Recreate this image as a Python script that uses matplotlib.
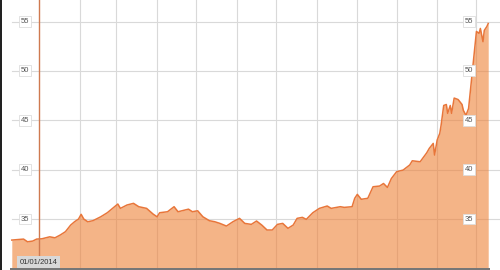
import numpy as np
import matplotlib
matplotlib.use("Agg")
from matplotlib import pyplot as plt

# days from 01/01/2014 and rate
days = [-21, -12, -9, -5, -2, 2, 8, 12, 16, 20, 24, 27, 30, 32, 34, 37, 41, 47, 52, 56,
        60, 62, 67, 72, 76, 82, 87, 90, 92, 98, 103, 106, 114, 117, 121, 125, 130, 134, 138, 143,
        148, 153, 157, 162, 166, 170, 174, 178, 182, 186, 190, 194, 197, 201, 204, 209, 214, 220, 223, 230,
        233, 239, 241, 243, 246, 251, 255, 260, 263, 266, 269, 273, 278, 283, 285, 291, 296, 298, 301, 302,
        304, 306, 307, 309, 311, 312, 314, 315, 317, 320, 323, 324, 326, 328, 334, 336, 337, 339, 340, 342, 343]
values = [32.87, 32.97, 32.70, 32.77, 32.97, 33.00, 33.20, 33.10, 33.38, 33.72, 34.39, 34.73, 35.00, 35.48, 35.00, 34.73, 34.83, 35.23, 35.64, 36.08,
          36.52, 36.08, 36.42, 36.59, 36.25, 36.08, 35.50, 35.23, 35.64, 35.74, 36.25, 35.74, 36.00, 35.74, 35.84, 35.23, 34.83, 34.73, 34.56, 34.29,
          34.73, 35.07, 34.56, 34.46, 34.80, 34.39, 33.89, 33.89, 34.46, 34.56, 34.06, 34.39, 35.07, 35.17, 34.97, 35.64, 36.08, 36.32, 36.08, 36.25,
          36.18, 36.25, 37.10, 37.50, 37.00, 37.10, 38.27, 38.34, 38.60, 38.20, 39.10, 39.79, 39.96, 40.47, 40.90, 40.80, 41.70, 42.16, 42.66, 41.48,
          43.00, 43.68, 44.50, 46.50, 46.60, 45.70, 46.50, 45.70, 47.25, 47.10, 46.60, 46.00, 45.50, 46.20, 54.00, 53.80, 54.30, 52.96, 54.10, 54.50, 54.80]
yticks = [35, 40, 45, 50, 55]
start_label = "01/01/2014"

base = np.datetime64("2014-01-01")
x = base + np.array(days).astype("timedelta64[D]")
months = np.arange(np.datetime64("2014-02"), np.datetime64("2015-01")).astype("datetime64[D]")

fig = plt.figure(figsize=(5, 2.7), dpi=100)
ax = fig.add_axes([0, 0, 1, 1])
ymin, ymax = 29.84, 57.18
ax.set_xlim(base - np.timedelta64(30, "D"), base + np.timedelta64(352, "D"))
ax.set_ylim(ymin, ymax)
ax.axis("off")

grid_c = "#d9d9d9"
for t in yticks:
    ax.axhline(t, xmin=0.024, xmax=1, color=grid_c, lw=0.8, zorder=1)
for m in months:
    ax.axvline(m, color=grid_c, lw=0.8, zorder=1)

ax.fill_between(x, values, ymin, color="#ee8237", alpha=0.6, lw=0, zorder=2)
ax.plot(x, values, color="#e8763a", lw=1.1, zorder=3)

ax.axvline(base, color="#cf7a50", lw=1.0, zorder=4)

box = dict(boxstyle="square,pad=0.25", fc="white", ec="#dddddd", lw=0.6)
for t in yticks:
    for xf in (0.05, 0.938):
        ax.text(xf, t, str(t), transform=ax.get_yaxis_transform(), ha="center", va="center",
                fontsize=5.5, color="#555555", family="Liberation Sans", bbox=box, zorder=5)

ax.text(38.5 / 500, 8 / 270, start_label, transform=ax.transAxes, ha="center", va="center",
        fontsize=5.5, color="#333333", family="Liberation Sans",
        bbox=dict(boxstyle="square,pad=0.35", fc="#d8d8d8", ec="none"), zorder=5)

# dark frame bits at the left edge and the bottom
fig.add_artist(plt.Rectangle((0, 0), 2 / 500, 1, transform=fig.transFigure, color="#222222", lw=0))
fig.add_artist(plt.Rectangle((10 / 500, 0), 480 / 500, 2.5 / 270, transform=fig.transFigure, color="#777777", lw=0))

fig.savefig("out.png", dpi=100)
